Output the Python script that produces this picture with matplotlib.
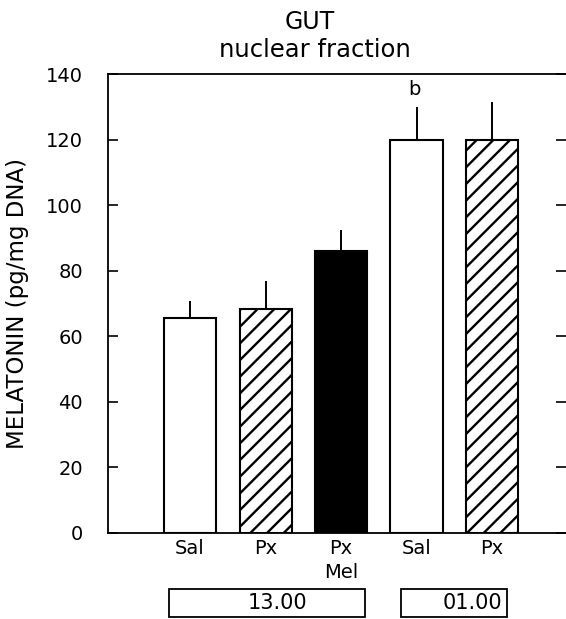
import numpy as np
import matplotlib
matplotlib.use('Agg')
import matplotlib.pyplot as plt
from matplotlib.patches import Rectangle

# data
groups = ['Sal', 'Px', 'Px', 'Sal', 'Px']
means = [65.5, 68.3, 86.0, 120.0, 120.0]
sem = [5.2, 8.5, 6.4, 10.0, 11.5]
fills = ['white', 'white', 'black', 'white', 'white']
hatches = ['', '//', '', '', '//']
y_ticks = [0, 20, 40, 60, 80, 100, 120, 140]
time_labels = ['13.00', '01.00']

plt.rcParams['font.family'] = ['DejaVu Sans']
plt.rcParams['hatch.linewidth'] = 1.7

fig = plt.figure(figsize=(5.66, 6.19), dpi=100)
ax = fig.add_axes([0.191, 0.139, 0.809, 0.741])

x = np.arange(len(means))
ax.bar(x, means, width=0.69, color=fills, edgecolor='black', linewidth=1.5,
       hatch=hatches, zorder=2)
ax.errorbar(x, means, yerr=[np.zeros(len(sem)), sem], fmt='none',
            ecolor='black', elinewidth=1.4, capsize=0, zorder=1)

ax.text(x[3] - 0.03, 135.5, 'b', ha='center', va='center', fontsize=14)

ax.set_xlim(-1.086, 4.98)
ax.set_ylim(0, 140)
ax.set_yticks(y_ticks)
ax.set_yticklabels([str(v) for v in y_ticks], fontsize=14)
ax.tick_params(axis='y', direction='in', length=7, width=1.2, pad=18,
               right=True)
ax.set_xticks(x)
ax.set_xticklabels(groups, fontsize=14)
ax.tick_params(axis='x', length=0, pad=4)
ax.set_ylabel('MELATONIN (pg/mg DNA)', fontsize=16.5, labelpad=12)
ax.spines['right'].set_visible(False)
for s in ['left', 'top', 'bottom']:
    ax.spines[s].set_linewidth(1.3)

ax.text(x[2], -12, 'Mel', ha='center', va='center', fontsize=14)

fig.text(0.548, 0.964, 'GUT', ha='center', va='center', fontsize=17)
fig.text(0.557, 0.920, 'nuclear fraction', ha='center', va='center',
         fontsize=17.5)

# time boxes below the axis
W, H = 566.0, 619.0
boxes = [(169, 365), (401, 507)]
label_x = [277, 472]
for (x0, x1), lx, lab in zip(boxes, label_x, time_labels):
    fig.patches.append(Rectangle((x0 / W, 1 - 617 / H), (x1 - x0) / W, 28 / H,
                                 transform=fig.transFigure, fill=False,
                                 edgecolor='black', linewidth=1.3))
    fig.text(lx / W, 1 - 603 / H, lab, ha='center', va='center',
             fontsize=15)

fig.savefig('out.png', dpi=100)
